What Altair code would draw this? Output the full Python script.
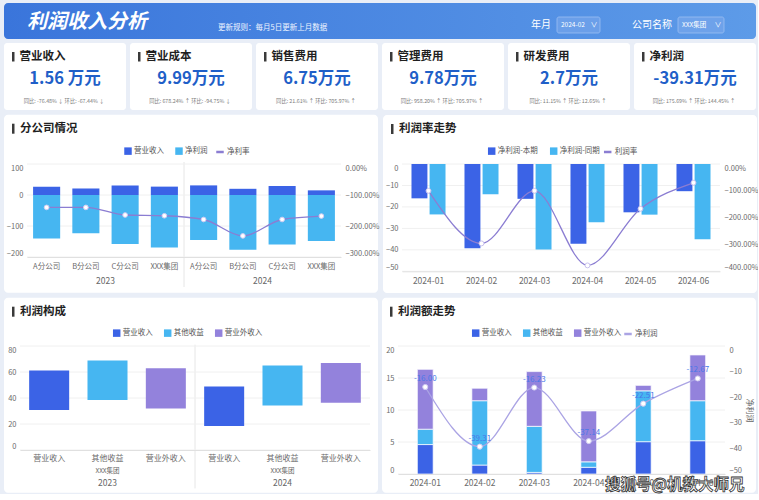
import altair as alt
import pandas as pd

FONT = "Noto Sans CJK SC"
DARK = "#3b63e6"
LIGHT = "#46b6f1"
PURPLE = "#9382dc"
LINE1 = "#8b7dd2"
LINE4 = "#aba4e4"
PAGE_BG = "#e9eef7"
GRID = "#f0f0f0"

# ---------------- data ----------------
kpi_names = ["营业收入", "营业成本", "销售费用", "管理费用", "研发费用", "净利润"]
kpi_values = ["1.56 万元", "9.99万元", "6.75万元", "9.78万元", "2.7万元", "-39.31万元"]
kpi_yoy = ["-76.48%", "678.24%", "21.61%", "958.20%", "11.15%", "175.69%"]
kpi_mom = ["-67.44%", "-94.75%", "705.97%", "705.97%", "12.65%", "144.45%"]

branch_years = ["2023"] * 4 + ["2024"] * 4
branch_names = ["A分公司", "B分公司", "C分公司", "XXX集团"] * 2
branch_revenue = [27, 21, 31, 27, 31, 20, 29, 15]
branch_profit = [-140, -123, -158, -169, -145, -177, -160, -148]
branch_rate = [-1.40, -1.40, -1.645, -1.67, -1.79, -2.32, -1.79, -1.68]
branch_ticks = [100, 0, -100, -200]
branch_rate_ticks = [0, -1, -2, -3]

months = ["2024-01", "2024-02", "2024-03", "2024-04", "2024-05", "2024-06"]
profit_cur = [-16.00, -39.31, -16.23, -37.14, -22.51, -12.67]
profit_ly = [-23.5, -14.1, -39.8, -27.2, -23.6, -35.1]
margin = [-1.00, -2.96, -1.00, -3.78, -1.67, -0.70]
trend_ticks = [0, -10, -20, -30, -40, -50]
margin_ticks = [0, -1, -2, -3, -4]

comp_years = ["2023"] * 3 + ["2024"] * 3
comp_items = ["营业收入", "其他收益", "营业外收入"] * 2
comp_low = [30.8, 38.5, 32.0, 18.5, 34.3, 36.4]
comp_high = [61.2, 68.9, 62.8, 48.9, 65.0, 66.9]
comp_ticks = [0, 20, 40, 60, 80]

amt_revenue = [4.6, 1.4, 0.25, 1.05, 5.05, 5.2]
amt_other = [2.4, 10.05, 7.2, 0.85, 7.95, 6.25]
amt_nonop = [9.35, 1.95, 8.55, 7.95, 0.85, 7.15]
amt_ticks = [0, 5, 10, 15, 20]
amt_profit_ticks = [0, -10, -20, -30, -40, -50]

one = pd.DataFrame({"a": [0]})
E = 23  # common left extent of the first chart in every row


def bg_rect(ml, mt, pw, ph):
    return alt.Chart(one).mark_rect(color="white", cornerRadius=4).encode(
        x=alt.value(-ml), x2=alt.value(pw - ml), y=alt.value(-mt), y2=alt.value(ph - mt))


def title_marks(text, ml, mt):
    df = pd.DataFrame({"t": [text]})
    bar = alt.Chart(one).mark_rect(color="#3a3a3a").encode(
        x=alt.value(8 - ml), x2=alt.value(10.5 - ml), y=alt.value(9 - mt), y2=alt.value(19 - mt))
    txt = alt.Chart(df).mark_text(align="left", baseline="middle", font=FONT, fontSize=11.5,
                                  fontWeight="bold", color="#1f1f1f").encode(
        x=alt.value(16 - ml), y=alt.value(14 - mt), text="t:N")
    return [bar, txt]


def legend(x, y, stype="square"):
    extra = dict(symbolStrokeWidth=2.5) if stype == "stroke" else dict(symbolStrokeWidth=0)
    return alt.Legend(orient="none", legendX=x, legendY=y, direction="horizontal", title=None,
                      symbolType=stype, gridAlign="each", **extra)


def grid_layer(ticks, yscale, yaxis, x0=None, x1=None):
    enc = dict(y=alt.Y("v:Q", scale=yscale, axis=yaxis))
    if x0 is not None:
        enc["x"] = alt.value(x0)
        enc["x2"] = alt.value(x1)
    return alt.Chart(pd.DataFrame({"v": ticks})).mark_rule(color=GRID, strokeWidth=1).encode(**enc)


yaxis_common = dict(title=None, labelFlush=True, domain=False, ticks=False, labelPadding=4, grid=False, zindex=1)
xaxis_common = dict(title=None, ticks=False, labelAngle=0, zindex=1, domainColor="#e0e0e0")

PW = 374

# ---------------- header ----------------
HW, HH = 752, 36
grad = alt.Gradient(gradient="linear",
                    stops=[alt.GradientStop(color="#3a75db", offset=0),
                           alt.GradientStop(color="#5d9be8", offset=1)],
                    x1=0, x2=1, y1=0, y2=0)
hdr_df = pd.DataFrame({"title": ["利润收入分析"], "rule": ["更新规则：每月5日更新上月数据"],
                       "ym": ["年月"], "ymv": ["2024-02"], "co": ["公司名称"], "cov": ["XXX集团"]})
hb = alt.Chart(hdr_df)


def hx(v):
    return alt.value(v - E)


header = alt.layer(
    hb.mark_rect(fill=grad, cornerRadius=4).encode(x=hx(0), x2=hx(HW), y=alt.value(0), y2=alt.value(HH)),
    hb.mark_text(align="left", baseline="middle", font=FONT, fontSize=20, fontWeight="bold",
                 fontStyle="italic", color="white").encode(x=hx(23), y=alt.value(18.5), text="title:N"),
    hb.mark_text(align="left", baseline="middle", font=FONT, fontSize=7.5, color="#eef4ff").encode(
        x=hx(214), y=alt.value(25), text="rule:N"),
    hb.mark_text(align="left", baseline="middle", font=FONT, fontSize=10, color="white").encode(
        x=hx(527), y=alt.value(22), text="ym:N"),
    hb.mark_rect(fill="#6b9fe9", stroke="#9cbff2", strokeWidth=0.8, cornerRadius=2).encode(
        x=hx(553), x2=hx(596), y=alt.value(14), y2=alt.value(30)),
    hb.mark_text(align="left", baseline="middle", font=FONT, fontSize=6.5, color="white").encode(
        x=hx(557), y=alt.value(22), text="ymv:N"),
    hb.mark_text(align="left", baseline="middle", font=FONT, fontSize=10, color="white").encode(
        x=hx(628), y=alt.value(22), text="co:N"),
    hb.mark_rect(fill="#6ea2ea", stroke="#9cbff2", strokeWidth=0.8, cornerRadius=2).encode(
        x=hx(674), x2=hx(720), y=alt.value(14), y2=alt.value(30)),
    hb.mark_text(align="left", baseline="middle", font=FONT, fontSize=6.5, color="white").encode(
        x=hx(678), y=alt.value(22), text="cov:N"),
    hb.mark_text(align="center", baseline="middle", font=FONT, fontSize=7, color="white").encode(
        x=hx(590), y=alt.value(22), text=alt.value("∨")),
    hb.mark_text(align="center", baseline="middle", font=FONT, fontSize=7, color="white").encode(
        x=hx(714), y=alt.value(22), text=alt.value("∨")),
).properties(width=HW - E, height=HH)

# ---------------- KPI cards ----------------
CW, CH = 122, 67


def arrow(s):
    return "↓" if s.startswith("-") else "↑"


cards = []
for i in range(6):
    dfc = pd.DataFrame({"name": [kpi_names[i]], "val": [kpi_values[i]],
                        "sub": [f"同比: {kpi_yoy[i]} {arrow(kpi_yoy[i])}     环比: {kpi_mom[i]} {arrow(kpi_mom[i])}"]})
    b = alt.Chart(dfc)
    card = alt.layer(
        b.mark_rect(color="white", cornerRadius=3).encode(x=hx(0), x2=hx(CW), y=alt.value(0), y2=alt.value(CH)),
        b.mark_rect(color="#3a3a3a").encode(x=hx(8), x2=hx(10.5), y=alt.value(9), y2=alt.value(18.5)),
        b.mark_text(align="left", baseline="middle", font=FONT, fontSize=11.5, fontWeight="bold",
                    color="#1f1f1f").encode(x=hx(15.5), y=alt.value(13.7), text="name:N"),
        b.mark_text(align="center", baseline="middle", font=FONT, fontSize=16.5, fontWeight="bold",
                    color="#1f5fc8").encode(x=hx(CW / 2), y=alt.value(36.3), text="val:N"),
        b.mark_text(align="center", baseline="middle", font=FONT, fontSize=5.3,
                    color="#7a7a7a").encode(x=hx(CW / 2 - 1), y=alt.value(58), text="sub:N"),
    ).properties(width=CW - E, height=CH)
    cards.append(card)

# ---------------- panel 1: 分公司情况 ----------------
ML1, MT1, W1, H1, PH2 = E, 49.3, 314, 93, 178
keys1 = [f"{y}|{n}" for y, n in zip(branch_years, branch_names)]
d1 = pd.DataFrame({"key": keys1 * 2, "series": ["营业收入"] * 8 + ["净利润"] * 8,
                   "value": branch_revenue + branch_profit})
d1r = pd.DataFrame({"key": keys1, "rate": branch_rate, "lname": ["净利率"] * 8})
d1y = pd.DataFrame({"key": [keys1[2], keys1[6]], "yr": ["2023", "2024"]})
d1s = pd.DataFrame({"key": [keys1[4]]})
xs1 = alt.Scale(domain=keys1, paddingInner=0, paddingOuter=0)
xa1 = alt.Axis(labelExpr="split(datum.label, '|')[1]", labelPadding=5, labelFontSize=7.5, **xaxis_common)


def x1(**kw):
    return alt.X("key:N", scale=xs1, axis=xa1, **kw)


ys1 = alt.Scale(domain=[-200, 100], nice=False)
ya1l = alt.Axis(values=branch_ticks, **yaxis_common)
bars1 = alt.Chart(d1).mark_bar(width=alt.RelativeBandSize(0.69)).encode(
    x=x1(),
    y=alt.Y("value:Q", stack=None, scale=ys1, axis=ya1l),
    color=alt.Color("series:N", scale=alt.Scale(domain=["营业收入", "净利润"], range=[DARK, LIGHT]),
                    legend=legend(97, -17)))
yr1 = alt.Scale(domain=[-3, 0], nice=False)
ya1 = alt.Axis(orient="right", values=branch_rate_ticks, format=".2%", **yaxis_common)
line1 = alt.Chart(d1r).mark_line(interpolate="monotone", strokeWidth=1.3).encode(
    x=x1(), y=alt.Y("rate:Q", scale=yr1, axis=ya1),
    stroke=alt.Stroke("lname:N", scale=alt.Scale(domain=["净利率"], range=[LINE1]),
                      legend=legend(188, -17, "stroke")))
pts1 = alt.Chart(d1r).mark_circle(size=22, color="white", stroke="#d2ccf2", strokeWidth=1, opacity=1).encode(
    x=x1(), y=alt.Y("rate:Q", scale=yr1, axis=ya1))
yrs1 = alt.Chart(d1y).mark_text(baseline="middle", font=FONT, fontSize=8.5, color="#666").encode(
    x=x1(bandPosition=0), y=alt.value(H1 + 23.5), text="yr:N")
sep1 = alt.Chart(d1s).mark_rule(color="#e6e6e6", strokeWidth=1).encode(
    x=x1(bandPosition=0), y=alt.value(-2), y2=alt.value(H1 + 30))
p1 = alt.layer(bg_rect(ML1, MT1, PW, PH2), *title_marks("分公司情况", ML1, MT1), sep1,
               alt.layer(grid_layer(branch_ticks, ys1, ya1l), bars1), yrs1,
               alt.layer(line1, pts1)).resolve_scale(y="independent").properties(width=W1, height=H1)

# ---------------- panel 2: 利润率走势 ----------------
ML2, MT2, W2, H2 = 19, 49, 318, 107.3
d2 = pd.DataFrame({"month": months * 2, "series": ["净利润-本期"] * 6 + ["净利润-同期"] * 6,
                   "value": profit_cur + profit_ly})
d2r = pd.DataFrame({"month": months, "margin": margin, "lname": ["利润率"] * 6})
xs2 = alt.Scale(domain=months, paddingInner=0.358, paddingOuter=0.179)
xa2 = alt.Axis(labelPadding=5, labelFontSize=8.5, **xaxis_common)
ys2 = alt.Scale(domain=[-50, 0], nice=False)
ya2l = alt.Axis(values=trend_ticks, **yaxis_common)
bars2 = alt.Chart(d2).mark_bar().encode(
    x=alt.X("month:N", scale=xs2, axis=xa2),
    xOffset=alt.XOffset("series:N", scale=alt.Scale(domain=["净利润-本期", "净利润-同期"], paddingInner=0.12, paddingOuter=0)),
    y=alt.Y("value:Q", scale=ys2, axis=ya2l),
    color=alt.Color("series:N", scale=alt.Scale(domain=["净利润-本期", "净利润-同期"], range=[DARK, LIGHT]),
                    legend=legend(85.7, -17)))
yr2 = alt.Scale(domain=[-4, 0], nice=False)
ya2 = alt.Axis(orient="right", values=margin_ticks, format=".2%", **yaxis_common)
line2 = alt.Chart(d2r).mark_line(interpolate="monotone", strokeWidth=1.3).encode(
    x=alt.X("month:N", scale=xs2, axis=xa2), y=alt.Y("margin:Q", scale=yr2, axis=ya2),
    stroke=alt.Stroke("lname:N", scale=alt.Scale(domain=["利润率"], range=[LINE1]),
                      legend=legend(200.7, -17, "stroke")))
pts2 = alt.Chart(d2r).mark_circle(size=24, color="white", stroke="#c9c2ee", strokeWidth=1, opacity=1).encode(
    x=alt.X("month:N", scale=xs2, axis=xa2), y=alt.Y("margin:Q", scale=yr2, axis=ya2))
p2 = alt.layer(bg_rect(ML2, MT2, PW, PH2), *title_marks("利润率走势", ML2, MT2),
               alt.layer(grid_layer(trend_ticks, ys2, ya2l), bars2),
               alt.layer(line2, pts2)).resolve_scale(y="independent").properties(width=W2, height=H2)

# ---------------- panel 3: 利润构成 ----------------
ML3, MT3, W3, H3, PH3 = E, 48.3, 343, 104, 195
SH3 = 7  # plot starts this far left of the chart origin
keys3 = [f"{y}|{i}" for y, i in zip(comp_years, comp_items)]
d3 = pd.DataFrame({"key": keys3, "item": comp_items, "low": comp_low, "high": comp_high})
d3c = pd.DataFrame({"key": [keys3[1], keys3[4]], "co": ["XXX集团", "XXX集团"], "yr": ["2023", "2024"]})
d3s = pd.DataFrame({"key": [keys3[3]]})
xs3 = alt.Scale(domain=keys3, paddingInner=0, paddingOuter=0, range=[-SH3, W3])
xa3 = alt.Axis(labelExpr="split(datum.label, '|')[1]", labelPadding=4, labelFontSize=8, **xaxis_common)


def x3(**kw):
    return alt.X("key:N", scale=xs3, axis=xa3, **kw)


ys3 = alt.Scale(domain=[0, 80], nice=False)
ya3 = alt.Axis(values=comp_ticks, offset=SH3, **yaxis_common)
bars3 = alt.Chart(d3).mark_bar(width=alt.RelativeBandSize(0.686)).encode(
    x=x3(),
    y=alt.Y("low:Q", scale=ys3, axis=ya3),
    y2="high:Q",
    color=alt.Color("item:N", scale=alt.Scale(domain=["营业收入", "其他收益", "营业外收入"], range=[DARK, LIGHT, PURPLE]),
                    legend=legend(85.7, -17)))
co3 = alt.Chart(d3c).mark_text(baseline="middle", font=FONT, fontSize=6.5, color="#666").encode(
    x=x3(), y=alt.value(H3 + 20.7), text="co:N")
yrs3 = alt.Chart(d3c).mark_text(baseline="middle", font=FONT, fontSize=8.5, color="#666").encode(
    x=x3(), y=alt.value(H3 + 32.7), text="yr:N")
sep3 = alt.Chart(d3s).mark_rule(color="#e6e6e6", strokeWidth=1).encode(
    x=x3(bandPosition=0), y=alt.value(-1.3), y2=alt.value(H3 + 38.4))
p3 = alt.layer(bg_rect(ML3, MT3, PW, PH3), *title_marks("利润构成", ML3, MT3), sep3,
               grid_layer(comp_ticks, ys3, ya3, -SH3, W3), bars3, co3, yrs3
               ).properties(width=W3, height=H3)

# ---------------- panel 4: 利润额走势 ----------------
ML4, MT4, W4, H4 = 16, 48.3, 327, 128
series4 = ["营业收入", "其他收益", "营业外收入"]
d4 = pd.DataFrame({"month": months * 3, "series": [s for s in series4 for _ in months],
                   "ord": [k for k in range(3) for _ in months],
                   "value": amt_revenue + amt_other + amt_nonop})
d4l = pd.DataFrame({"month": months, "profit": profit_cur, "lname": ["净利润"] * 6,
                    "lbl": [f"{v:.2f}" for v in profit_cur]})
xs4 = alt.Scale(domain=months, paddingInner=0, paddingOuter=0)
xa4 = alt.Axis(labelPadding=4, labelFontSize=8.5, **xaxis_common)
ys4 = alt.Scale(domain=[0, 20], nice=False)
ya4l = alt.Axis(values=amt_ticks, **yaxis_common)
bars4 = alt.Chart(d4).mark_bar(width=alt.RelativeBandSize(0.29), stroke="white", strokeWidth=0.7).encode(
    x=alt.X("month:N", scale=xs4, axis=xa4),
    y=alt.Y("value:Q", stack="zero", scale=ys4, axis=ya4l),
    color=alt.Color("series:N", scale=alt.Scale(domain=series4, range=[DARK, LIGHT, PURPLE]),
                    legend=legend(73.7, -17)),
    order=alt.Order("ord:Q"))
yr4 = alt.Scale(domain=[-50, 0], nice=False)
ya4 = alt.Axis(orient="right", values=amt_profit_ticks, title="净利润",
               titleFontSize=8, titleFontWeight="normal", titleColor="#666", titlePadding=3,
               **{k: v for k, v in yaxis_common.items() if k != "title"})
line4 = alt.Chart(d4l).mark_line(interpolate="monotone", strokeWidth=1.3).encode(
    x=alt.X("month:N", scale=xs4, axis=xa4), y=alt.Y("profit:Q", scale=yr4, axis=ya4),
    stroke=alt.Stroke("lname:N", scale=alt.Scale(domain=["净利润"], range=[LINE4]),
                      legend=legend(225, -17, "stroke")))
pts4 = alt.Chart(d4l).mark_circle(size=26, color="white", stroke="#d0cbf0", strokeWidth=1, opacity=1).encode(
    x=alt.X("month:N", scale=xs4, axis=xa4), y=alt.Y("profit:Q", scale=yr4, axis=ya4))
lab4 = alt.Chart(d4l).mark_text(dy=-8, font=FONT, fontSize=8, color="#4a78e8").encode(
    x=alt.X("month:N", scale=xs4, axis=xa4), y=alt.Y("profit:Q", scale=yr4, axis=ya4), text="lbl:N")
wm = alt.Chart(pd.DataFrame({"t": ["搜狐号@机教大师兄"]})).mark_text(
    align="left", baseline="middle", font=FONT, fontSize=15.5, fontWeight="bold", fill="white",
    stroke="#333333", strokeWidth=0.8).encode(x=alt.value(207), y=alt.value(139), text="t:N")
p4 = alt.layer(bg_rect(ML4, MT4, PW, PH3), *title_marks("利润额走势", ML4, MT4),
               alt.layer(grid_layer(amt_ticks, ys4, ya4l), bars4),
               alt.layer(line4, pts4, lab4), wm).resolve_scale(y="independent").properties(width=W4, height=H4)


# ---------------- assemble ----------------
def indep(c):
    return c.resolve_scale(color="independent", stroke="independent").resolve_legend(
        color="independent", stroke="independent")


row_kpi = indep(alt.hconcat(*cards, spacing=4))
row2 = indep(alt.hconcat(p1, p2, spacing=4))
row3 = indep(alt.hconcat(p3, p4, spacing=4))

chart = indep(alt.concat(header, row_kpi, row2, row3, columns=1, spacing=4, align="none")).properties(
    background=PAGE_BG,
    padding={"left": 4, "top": 3, "right": 0, "bottom": 0},
).configure_view(stroke=None).configure_axis(
    labelFont=FONT, labelColor="#6b6b6b", labelFontSize=7.5, domainColor="#e2e2e2",
    titleFont=FONT,
).configure_legend(
    labelFont=FONT, labelFontSize=7.5, labelColor="#555", symbolSize=56, padding=0,
    columnPadding=11, labelOffset=2, symbolOpacity=1,
)

chart.save("out.html", embed_options={"renderer": "svg", "actions": False})
